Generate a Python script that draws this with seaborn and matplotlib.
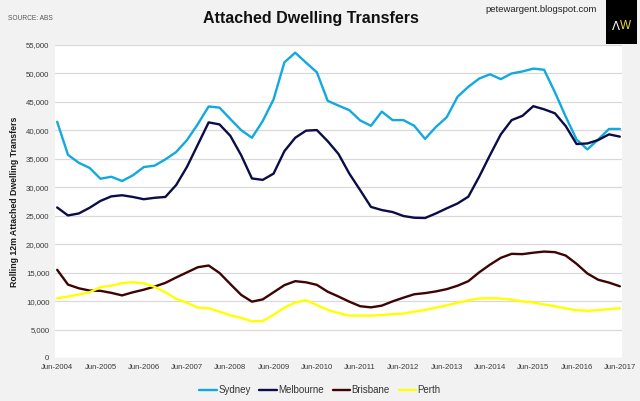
import pandas as pd
import matplotlib
matplotlib.use("Agg")
import matplotlib.pyplot as plt
import seaborn as sns
from matplotlib.patches import Rectangle
from matplotlib.ticker import FuncFormatter

# rolling 12m attached dwelling transfers, quarterly Jun-2004 .. Jun-2017
sydney = [41500, 35700, 34300, 33400, 31500, 31850, 31100, 32100, 33550, 33800,
          34900, 36200, 38300, 41100, 44200, 44000, 42000, 40050, 38700, 41650,
          45450, 51950, 53650, 51900, 50200, 45200, 44350, 43550, 41750, 40800,
          43300, 41800, 41800, 40800, 38500, 40600, 42300, 45900, 47650, 49100,
          49850, 49000, 50000, 50350, 50850, 50650, 46700, 42400, 38400, 36650,
          38400, 40250, 40250]
melbourne = [26450, 25050, 25400, 26400, 27600, 28400, 28600, 28300, 27900, 28150,
             28300, 30400, 33600, 37500, 41400, 41050, 39050, 35650, 31550, 31300,
             32400, 36350, 38700, 39950, 40050, 38100, 35850, 32400, 29500, 26550,
             26000, 25650, 24950, 24650, 24600, 25400, 26300, 27150, 28350, 31850,
             35650, 39300, 41800, 42550, 44250, 43700, 43000, 40750, 37600, 37700,
             38300, 39300, 38900]
brisbane = [15500, 12900, 12250, 11850, 11800, 11450, 11000, 11550, 12000, 12550,
            13200, 14150, 15050, 15950, 16250, 14950, 13000, 11100, 9900, 10300,
            11550, 12800, 13500, 13300, 12850, 11650, 10800, 9900, 9100, 8900,
            9200, 9950, 10600, 11200, 11400, 11700, 12100, 12700, 13500, 15050,
            16400, 17600, 18300, 18250, 18500, 18700, 18600, 18000, 16550, 14850,
            13750, 13250, 12600]
perth = [10500, 10800, 11150, 11550, 12450, 12700, 13150, 13300, 13150, 12500,
         11550, 10400, 9700, 8850, 8750, 8150, 7500, 7050, 6450, 6500,
         7600, 8850, 9750, 10150, 9300, 8450, 7900, 7450, 7450, 7450,
         7550, 7700, 7800, 8150, 8450, 8850, 9250, 9700, 10150, 10450,
         10500, 10450, 10250, 9950, 9750, 9400, 9100, 8700, 8400, 8300,
         8400, 8600, 8750]

cities = ["Sydney", "Melbourne", "Brisbane", "Perth"]
tick_labels = ["Jun-2004", "Jun-2005", "Jun-2006", "Jun-2007", "Jun-2008",
               "Jun-2009", "Jun-2010", "Jun-2011", "Jun-2012", "Jun-2013",
               "Jun-2014", "Jun-2015", "Jun-2016", "Jun-2017"]

colors = {"Sydney": "#12a8e0", "Melbourne": "#0b0c48",
          "Brisbane": "#3e0303", "Perth": "#ffff00"}

series = [sydney, melbourne, brisbane, perth]
df = pd.concat([pd.DataFrame({"quarter": range(len(v)), "value": v, "city": c})
                for c, v in zip(cities, series)], ignore_index=True)

sns.set_style("white")
plt.rcParams["font.family"] = ["Liberation Sans", "DejaVu Sans"]

fig = plt.figure(figsize=(6.4, 4.01), dpi=100, facecolor="#f2f2f2")
ax = fig.add_axes([55 / 640, 1 - 358 / 401, 567 / 640, 313 / 401])
ax.set_facecolor("white")

sns.lineplot(data=df, x="quarter", y="value", hue="city", hue_order=cities,
             palette=colors, linewidth=1.7, ax=ax)

ax.set_xlim(-0.2, 52.2)
ax.set_ylim(0, 55000)
ax.set_xticks(range(0, 53, 4))
ax.set_xticklabels(tick_labels)
ax.set_yticks(range(0, 55001, 5000))
ax.yaxis.set_major_formatter(FuncFormatter(lambda v, p: f"{int(v):,}"))
ax.tick_params(length=0, labelsize=5.6, colors="#3a3a3a", pad=4)
ax.yaxis.grid(True, color="#d9d9d9", linewidth=0.9)
ax.xaxis.grid(False)
ax.set_axisbelow(True)
for s in ax.spines.values():
    s.set_visible(False)
ax.set_xlabel("")
ax.set_ylabel("")

fig.text(15 / 640, 0.4975, "Rolling 12m Attached Dwelling Transfers", rotation=90,
         ha="center", va="center", fontsize=6.3, fontweight="bold", color="#1a1a1a")

sns.move_legend(ax, "center", bbox_to_anchor=(0.5, 1 - 390 / 401),
                bbox_transform=fig.transFigure, ncol=4, frameon=False, title=None,
                fontsize=7, handlelength=1.8, handletextpad=0.15, columnspacing=0.9)
for t in ax.get_legend().get_texts():
    t.set_color("#333333")

fig.text(311 / 640, 1 - 19 / 401, "Attached Dwelling Transfers", ha="center",
         va="center", fontsize=11.5, fontweight="bold", color="#111111")
fig.text(8 / 640, 1 - 18 / 401, "SOURCE: ABS", ha="left", va="center",
         fontsize=4.8, color="#555555")
fig.text(541 / 640, 1 - 9 / 401, "petewargent.blogspot.com", ha="center",
         va="center", fontsize=6.8, color="#222222")

fig.patches.append(Rectangle((606 / 640, 1 - 44 / 401), 31 / 640, 44 / 401,
                             transform=fig.transFigure, facecolor="black",
                             edgecolor="none", zorder=5))
fig.text(616 / 640, 1 - 26 / 401, "Λ", ha="center", va="center", fontsize=8.5,
         color="white", zorder=6, family=["DejaVu Sans"])
fig.text(626 / 640, 1 - 26 / 401, "W", ha="center", va="center", fontsize=8.5,
         color="#e6d84a", zorder=6)

fig.savefig("out.png", dpi=100, facecolor=fig.get_facecolor())
